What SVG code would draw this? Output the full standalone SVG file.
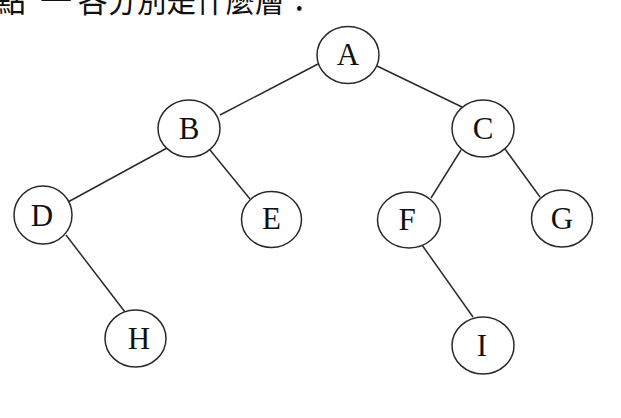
<svg xmlns="http://www.w3.org/2000/svg" width="621" height="418" viewBox="0 0 621 418">
  <style>
    .edge { stroke: #2a2a2a; stroke-width: 1.5; fill: none; }
    .node ellipse { fill: #fff; stroke: #2a2a2a; stroke-width: 1.5; }
    .node text { font-family: "Liberation Serif", "Times New Roman", serif; font-size: 31px; fill: #111; text-anchor: middle; }
    .caption { font-family: "Noto Sans CJK TC", "Noto Sans CJK SC", sans-serif; font-size: 32px; fill: #111; }
  </style>
  <rect width="621" height="418" fill="#fff"/>
  <text class="caption" x="-6" y="12">點</text>
  <text class="caption" x="40" y="12" font-size="26">一</text>
  <text class="caption" x="78" y="12" textLength="236" lengthAdjust="spacingAndGlyphs">各分別是什麼層：</text>
  <g id="connectors">
    <line class="edge" x1="220" y1="115" x2="318" y2="64"/>
    <line class="edge" x1="377" y1="66" x2="462" y2="107"/>
    <line class="edge" x1="167" y1="148" x2="68" y2="202"/>
    <line class="edge" x1="210" y1="150" x2="250" y2="199"/>
    <line class="edge" x1="461" y1="150" x2="431" y2="198"/>
    <line class="edge" x1="505" y1="149" x2="540" y2="197"/>
    <line class="edge" x1="66" y1="235" x2="125" y2="312"/>
    <line class="edge" x1="422" y1="245" x2="473" y2="317"/>
  </g>
  <g id="node-A" class="node"><ellipse cx="348" cy="55" rx="31" ry="28.5"/><text x="348" y="64.5">A</text></g>
  <g id="node-B" class="node"><ellipse cx="189" cy="128.5" rx="31" ry="28.5"/><text x="189" y="138.5">B</text></g>
  <g id="node-C" class="node"><ellipse cx="483" cy="128.5" rx="31" ry="28.5"/><text x="483" y="138.5">C</text></g>
  <g id="node-D" class="node"><ellipse cx="43" cy="215" rx="29" ry="29"/><text x="42" y="225.5">D</text></g>
  <g id="node-E" class="node"><ellipse cx="271.5" cy="219.5" rx="30" ry="28"/><text x="271.5" y="229">E</text></g>
  <g id="node-F" class="node"><ellipse cx="409" cy="220" rx="31.5" ry="28"/><text x="407" y="229.5">F</text></g>
  <g id="node-G" class="node"><ellipse cx="562" cy="218.5" rx="30.5" ry="28.5"/><text x="562" y="228.5">G</text></g>
  <g id="node-H" class="node"><ellipse cx="135.5" cy="338.5" rx="30.5" ry="28.5"/><text x="139" y="348.5">H</text></g>
  <g id="node-I" class="node"><ellipse cx="483" cy="345.5" rx="31" ry="28.5"/><text x="482" y="355.5">I</text></g>
</svg>
